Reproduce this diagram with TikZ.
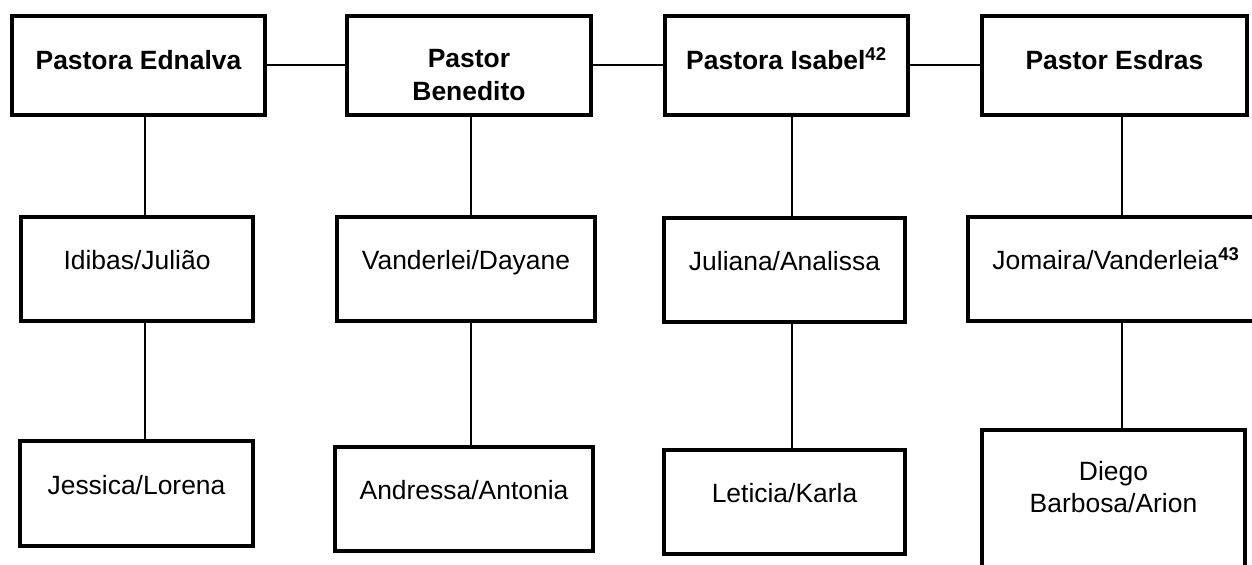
\documentclass[tikz,border=0pt]{standalone}
\usepackage{fontspec}
\setmainfont{Liberation Sans}
\begin{document}
\begin{tikzpicture}[x=0.025cm, y=-0.025cm,
        pbox/.style={draw=black, line width=0.1cm, inner sep=0pt, align=center, font=\fontsize{18.8}{23}\selectfont},
        pastor/.style={pbox, font=\fontsize{18.8}{23}\selectfont\bfseries},
        elo/.style={black, line width=0.05cm}]
        \useasboundingbox (0,0) rectangle (1252,565);
        \clip (0,0) rectangle (1252,565);

        \node[pastor, minimum width=6.325cm, text height=1.34cm, text depth=1.135cm] (ednalva) at (138.5,65.5) {Pastora Ednalva};
        \node[pastor, minimum width=6.1cm, text height=2.1cm, text depth=0.375cm] (benedito) at (469,65.5) {Pastor\\Benedito};
        \node[pastor, minimum width=6.075cm, text height=1.34cm, text depth=1.135cm] (isabel) at (786.5,65.5) {Pastora Isabel\textsuperscript{42}};
        \node[pastor, minimum width=6.625cm, text height=1.34cm, text depth=1.135cm] (esdras) at (1114.5,65.5) {Pastor Esdras};

        \node[pbox, minimum width=5.8cm, text height=1.32cm, text depth=1.28cm] (idibas) at (137,269) {Idibas/Julião};
        \node[pbox, minimum width=6.45cm, text height=1.32cm, text depth=1.28cm] (vanderlei) at (466,269) {Vanderlei/Dayane};
        \node[pbox, minimum width=6.025cm, text height=1.32cm, text depth=1.28cm] (juliana) at (784.5,270) {Juliana/Analissa};
        \node[pbox, minimum width=7.4cm, text height=1.32cm, text depth=1.28cm] (jomaira) at (1116,269) {Jomaira/Vanderleia\textsuperscript{\bfseries 43}};

        \node[pbox, minimum width=5.825cm, text height=1.34cm, text depth=1.285cm] (jessica) at (136.5,493.5) {Jessica/Lorena};
        \node[pbox, minimum width=6.45cm, text height=1.32cm, text depth=1.28cm] (andressa) at (464,499) {Andressa/Antonia};
        \node[pbox, minimum width=6.025cm, text height=1.32cm, text depth=1.28cm] (leticia) at (784.5,502) {Leticia/Karla};
        \node[pbox, minimum width=6.575cm, text height=2.06cm, text depth=1.69cm] (diego) at (1113.5,505) {Diego\\Barbosa/Arion};

        \coordinate (col1) at (145,0);
        \coordinate (col2) at (471,0);
        \coordinate (col3) at (792,0);
        \coordinate (col4) at (1122,0);

        \draw[elo] (ednalva) -- (benedito);
        \draw[elo] (benedito) -- (isabel);
        \draw[elo] (isabel) -- (esdras);

        \draw[elo] (ednalva.south -| col1) -- (idibas.north -| col1);
        \draw[elo] (idibas.south -| col1) -- (jessica.north -| col1);
        \draw[elo] (benedito.south -| col2) -- (vanderlei.north -| col2);
        \draw[elo] (vanderlei.south -| col2) -- (andressa.north -| col2);
        \draw[elo] (isabel.south -| col3) -- (juliana.north -| col3);
        \draw[elo] (juliana.south -| col3) -- (leticia.north -| col3);
        \draw[elo] (esdras.south -| col4) -- (jomaira.north -| col4);
        \draw[elo] (jomaira.south -| col4) -- (diego.north -| col4);
\end{tikzpicture}
\end{document}
